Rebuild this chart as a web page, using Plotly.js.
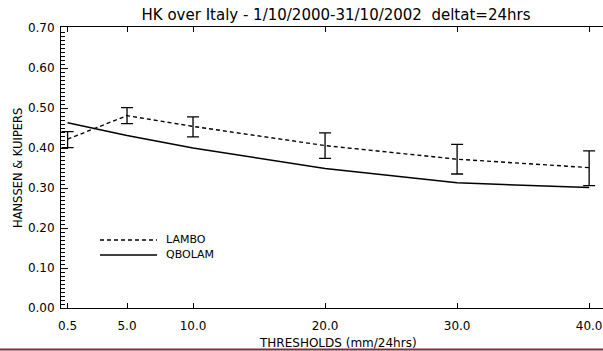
<!DOCTYPE html>
<html>
<head>
<meta charset="utf-8">
<script src="https://cdn.plot.ly/plotly-3.0.1.min.js"></script>
<style>html,body{margin:0;padding:0;background:#fff;}#chart{width:603px;height:351px;}</style>
</head>
<body>
<div id="chart"></div>
<script>
// ---- data ----
const thresholds = [0.5, 5, 10, 20, 30, 40];
const xTickLabels = ['0.5', '5.0', '10.0', '20.0', '30.0', '40.0'];
const lambo = [0.422, 0.481, 0.454, 0.406, 0.372, 0.351];
const lamboErrPlus = [0.019, 0.020, 0.024, 0.032, 0.037, 0.042];
const lamboErrMinus = [0.021, 0.020, 0.026, 0.032, 0.037, 0.045];
const qbolam = [0.463, 0.431, 0.400, 0.349, 0.313, 0.301];
const seriesNames = ['LAMBO', 'QBOLAM'];

// ---- geometry helpers (pixel -> paper) ----
const W = 603, H = 351, L = 61, T = 27, B = 43;
const pw = W - L, ph = H - T - B;
const px = x => (x - L) / pw;
const py = y => (H - B - y) / ph;

const traces = [
  {
    x: thresholds, y: lambo, name: seriesNames[0], type: 'scatter', mode: 'lines',
    line: {color: 'black', width: 1.4, dash: '4px,3px'},
    error_y: {type: 'data', symmetric: false, array: lamboErrPlus, arrayminus: lamboErrMinus,
              color: 'black', thickness: 1.3, width: 6}
  },
  {
    x: thresholds, y: qbolam, name: seriesNames[1], type: 'scatter', mode: 'lines',
    line: {color: 'black', width: 1.5}
  }
];

const layout = {
  width: W, height: H,
  margin: {l: L, r: 0, t: T, b: B, pad: 0},
  paper_bgcolor: 'white', plot_bgcolor: 'white',
  showlegend: false,
  font: {family: 'DejaVu Sans, sans-serif', color: 'black', size: 12},
  title: {
    text: 'HK over Italy - 1/10/2000-31/10/2002  deltat=24hrs',
    font: {size: 15, color: 'black'},
    xref: 'container', x: 336 / W, xanchor: 'center',
    yref: 'container', y: 1 - 15 / H, yanchor: 'middle'
  },
  xaxis: {
    range: [0, 41.05],
    tickmode: 'array', tickvals: thresholds, ticktext: xTickLabels,
    ticks: 'inside', ticklen: 5, tickwidth: 1, tickcolor: 'black',
    showline: true, linecolor: 'black', linewidth: 1, mirror: 'ticks',
    showgrid: false, zeroline: false,
    tickfont: {size: 12}, ticklabelstandoff: 7
  },
  yaxis: {
    range: [0, 0.7025],
    tick0: 0, dtick: 0.1, tickformat: '.2f',
    ticks: 'inside', ticklen: 7, tickwidth: 1, tickcolor: 'black',
    minor: {tick0: 0, dtick: 0.01, ticks: 'inside', ticklen: 4, tickcolor: 'black', tickwidth: 1, showgrid: false},
    showline: true, linecolor: 'black', linewidth: 1, mirror: false,
    showgrid: false, zeroline: false,
    tickfont: {size: 12}, ticklabelstandoff: 3
  },
  shapes: [
    {type: 'line', xref: 'paper', yref: 'paper', x0: px(100), x1: px(157), y0: py(240), y1: py(240),
     line: {color: 'black', width: 1.4, dash: '4px,3px'}},
    {type: 'line', xref: 'paper', yref: 'paper', x0: px(100), x1: px(157), y0: py(255), y1: py(255),
     line: {color: 'black', width: 1.5}},
    {type: 'line', xref: 'paper', yref: 'paper', x0: px(0), x1: px(W), y0: py(349.5), y1: py(349.5),
     line: {color: 'rgb(128,44,60)', width: 2}}
  ],
  annotations: [
    {text: 'THRESHOLDS (mm/24hrs)', xref: 'paper', yref: 'paper', x: px(338), y: py(343),
     xanchor: 'center', yanchor: 'middle', showarrow: false, font: {size: 12}},
    {text: 'HANSSEN &amp; KUIPERS', xref: 'paper', yref: 'paper', x: px(18), y: py(168),
     xanchor: 'center', yanchor: 'middle', textangle: -90, showarrow: false, font: {size: 11.5}},
    {text: seriesNames[0], xref: 'paper', yref: 'paper', x: px(164), y: py(239),
     xanchor: 'left', yanchor: 'middle', showarrow: false, font: {size: 11}},
    {text: seriesNames[1], xref: 'paper', yref: 'paper', x: px(164), y: py(254),
     xanchor: 'left', yanchor: 'middle', showarrow: false, font: {size: 11}}
  ]
};

Plotly.newPlot('chart', traces, layout, {displayModeBar: false, staticPlot: true});
</script>
</body>
</html>
